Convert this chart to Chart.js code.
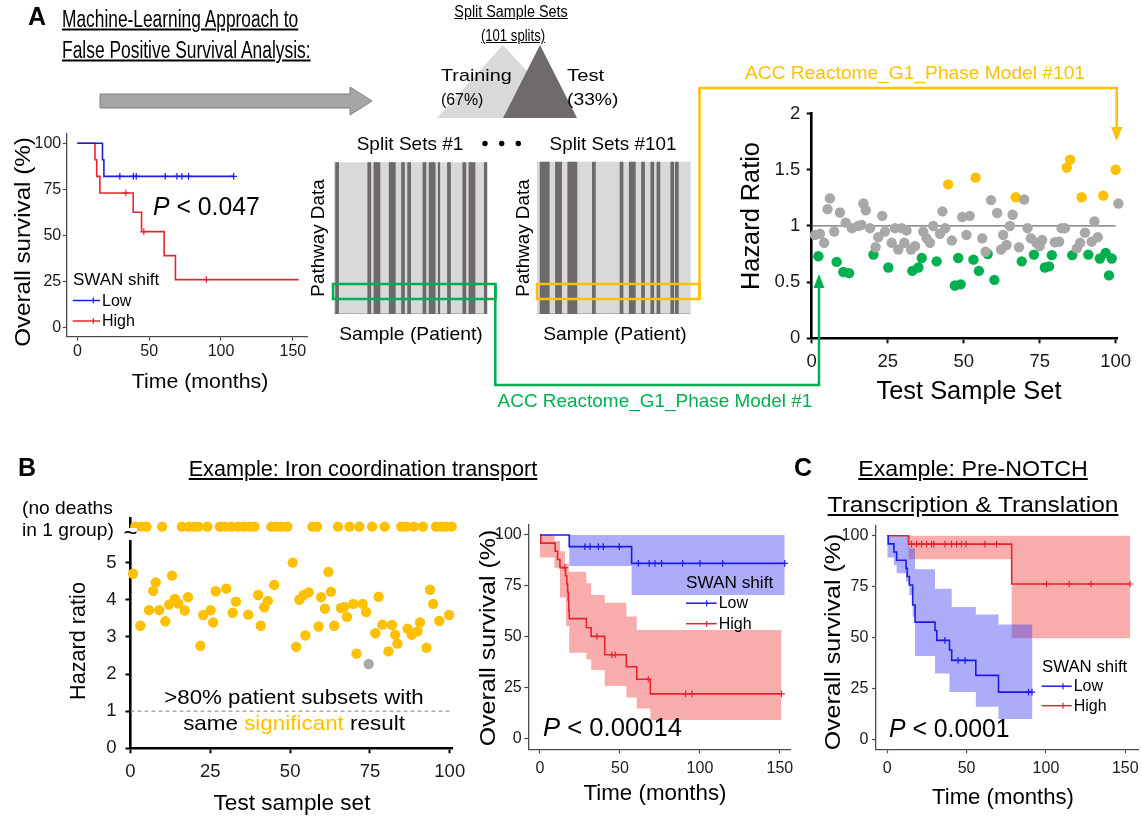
<!DOCTYPE html>
<html>
<head>
<meta charset="utf-8">
<title>SWAN shift survival figure</title>
<script src="https://cdn.jsdelivr.net/npm/chart.js@4.4.1/dist/chart.umd.min.js"></script>
<style>
  body { margin: 0; background: #fff; }
  #fig { position: relative; width: 1141px; height: 816px; overflow: hidden; background: #fff;
         font-family: "Liberation Sans", Arial, sans-serif; color: #000; }
  #fig canvas { position: absolute; z-index: 1; }
  #fig svg { position: absolute; left: 0; top: 0; z-index: 2; }
  .t { position: absolute; z-index: 3; white-space: nowrap; line-height: 1; }
</style>
</head>
<body>
<div id="fig">
  <svg id="sketch" width="1141" height="816">
    <!-- big process arrow -->
    <polygon points="100,94 350,94 350,87 372,101 350,115 350,108 100,108" fill="#a6a6a6" stroke="#7f7f7f" stroke-width="1"/>
    <!-- training / test triangles -->
    <polygon points="437,118 503,45 570,118" fill="#d9d9d9"/>
    <polygon points="503,118 540,45 577,118" fill="#6f6b6b"/>
    <!-- dots between split sets -->
    <circle cx="485" cy="143.5" r="2.7" fill="#000"/>
    <circle cx="501.7" cy="143.5" r="2.7" fill="#000"/>
    <circle cx="518.3" cy="143.5" r="2.7" fill="#000"/>
    <!-- green model #1 -->
    <rect x="333" y="284" width="162.5" height="15" fill="none" stroke="#00b050" stroke-width="2.5"/>
    <polyline points="495.3,284 495.3,385 819,385 819,286" fill="none" stroke="#00b050" stroke-width="2.5"/>
    <polygon points="813.5,288 819,274 824.5,288" fill="#00b050"/>
    <!-- orange model #101 -->
    <rect x="537" y="284" width="162.5" height="15" fill="none" stroke="#ffc000" stroke-width="2.5"/>
    <polyline points="699.5,299 699.5,88 1116.7,88 1116.7,128" fill="none" stroke="#ffc000" stroke-width="2.5"/>
    <polygon points="1111,127 1122.4,127 1116.7,141" fill="#ffc000"/>
  </svg>
</div>
<script>
/* police et couleurs */
const FONT = '"Liberation Sans", Arial, sans-serif';
Chart.defaults.font.family = FONT;
const fig = document.getElementById("fig");
const sketch = document.getElementById("sketch");

const BLUE = "#1c1ce8", RED = "#e4262c";
const BLUE_BAND = "rgba(70,70,240,0.45)", RED_BAND = "rgba(240,70,70,0.45)";
const GRAY_PT = "#aaa7a7", GREEN = "#00b050", ORANGE = "#ffc000";

/* ticks */
const kmTimeTicks = [0, 50, 100, 150];
const kmSurvTicks = [0, 25, 50, 75, 100];
const setTicks = [0, 25, 50, 75, 100];
const hrTicksA = [0, 0.5, 1, 1.5, 2];
const hrTicksB = [0, 1, 2, 3, 4, 5];
const groupNames = ["Low", "High"];
const legendTitle = "SWAN shift";

/* A : petite courbe de survie */
const kmA_lowTime = [0, 17.5, 18.5, 108.8];
const kmA_lowSurv = [100, 91, 82, 82];
const kmA_lowCensor = [29.6, 39, 41, 61.2, 69.3, 72.8, 77.4, 108.8];
const kmA_highTime = [0, 12.3, 13.5, 15.7, 38.9, 44.7, 60.4, 68.3, 154];
const kmA_highSurv = [100, 91, 82, 73, 62.5, 52, 39, 26, 26];
const kmA_highCensor = [33.8, 46.3, 89.8];

/* A : barcodes (colonnes sombres sur 100) */
const split1Stripes = [[1, 2], [22, 23], [26, 29], [36, 39], [44, 45], [48, 49], [58, 59], [62, 65], [68, 68], [74, 75], [84, 85], [88, 91], [98, 99]];
const split101Stripes = [[2, 7], [12, 15], [20, 25], [36, 37], [54, 55], [60, 63], [68, 69], [74, 75], [78, 79], [87, 88], [90, 91]];

/* A : hazard ratio par jeu de test */
const grayX = [1.1, 2.7, 4.1, 5.2, 6.0, 7.4, 9.3, 11.2, 13.2, 15.3, 16.4, 17.0, 17.8, 19.2, 21.0, 21.9, 23.2, 24.1, 26.3, 27.4, 28.5, 29.6, 30.5, 31.2, 32.7, 34.0, 36.7, 37.8, 38.9, 40.0, 42.2, 43.0, 43.9, 46.1, 49.5, 50.9, 52.0, 56.1, 57.2, 59.0, 61.0, 62.3, 63.0, 64.1, 65.2, 66.1, 68.2, 69.9, 71.0, 72.1, 73.9, 75.0, 75.8, 80.0, 81.4, 82.2, 83.3, 87.2, 88.3, 89.9, 92.1, 93.0, 94.1, 100.9];
const grayHR = [0.92, 0.93, 0.85, 1.15, 1.245, 0.95, 1.12, 1.03, 0.98, 1.00, 1.01, 1.20, 1.14, 0.98, 0.81, 0.90, 1.09, 0.95, 0.85, 0.98, 0.79, 0.98, 0.85, 0.96, 0.79, 0.82, 0.95, 0.89, 0.85, 1.00, 0.93, 1.13, 0.98, 0.87, 1.08, 0.92, 1.09, 0.89, 0.77, 1.23, 1.115, 0.79, 0.92, 0.83, 1.00, 1.10, 0.81, 1.235, 0.98, 0.89, 0.85, 0.82, 0.875, 0.855, 0.86, 0.98, 0.98, 0.80, 0.85, 0.94, 0.86, 1.04, 0.90, 1.20];
const greenX = [2.2, 8.2, 10.4, 12.3, 20.3, 25.2, 33.1, 35.1, 36.2, 41.1, 47.1, 48.2, 49.0, 53.2, 55.0, 57.9, 60.1, 69.1, 73.1, 76.7, 78.1, 79.0, 85.7, 91.0, 94.8, 96.7, 97.8, 98.7];
const greenHR = [0.73, 0.68, 0.59, 0.58, 0.745, 0.63, 0.60, 0.63, 0.715, 0.685, 0.47, 0.715, 0.48, 0.70, 0.60, 0.75, 0.52, 0.685, 0.745, 0.63, 0.64, 0.74, 0.74, 0.745, 0.71, 0.76, 0.56, 0.71];
const orangeX = [44.9, 53.9, 67.1, 83.9, 85.0, 88.8, 95.9, 100.0];
const orangeHR = [1.37, 1.43, 1.255, 1.52, 1.59, 1.255, 1.27, 1.50];
const refHR = 1;

/* B : iron coordination transport */
const ironX = [0.8, 3.1, 5.8, 7.1, 7.9, 9.0, 10.9, 12.1, 13.0, 13.9, 15.0, 17.0, 18.0, 21.9, 22.8, 25.1, 25.9, 26.7, 30.0, 32.0, 33.0, 36.9, 40.0, 40.8, 41.9, 43.0, 45.0, 50.8, 51.9, 52.9, 54.2, 54.8, 55.8, 58.9, 59.7, 60.9, 62.0, 62.8, 63.8, 65.9, 67.0, 67.8, 69.8, 70.8, 72.7, 73.8, 76.7, 77.7, 78.9, 80.8, 81.9, 82.9, 83.6, 86.8, 88.1, 89.9, 90.7, 92.7, 93.8, 94.8, 96.7, 99.8];
const ironHR = [4.70, 3.30, 3.72, 4.24, 4.47, 3.72, 3.42, 3.87, 4.65, 4.02, 3.90, 3.71, 4.07, 2.76, 3.59, 3.72, 3.39, 4.23, 4.30, 3.65, 3.95, 3.60, 4.13, 3.30, 3.80, 3.97, 4.40, 5.00, 2.73, 4.00, 4.13, 3.04, 4.20, 3.28, 4.07, 3.76, 4.75, 4.22, 3.30, 3.78, 3.81, 3.54, 3.89, 2.55, 3.89, 3.67, 3.10, 4.08, 3.33, 2.61, 3.32, 3.06, 2.82, 3.22, 3.06, 3.15, 3.39, 2.71, 4.27, 3.89, 3.43, 3.59];
const ironGrayX = [74.6];
const ironGrayHR = [2.27];
const ironNoDeathX = [1.5, 3.3, 5.0, 9.9, 16.1, 18.3, 20.1, 21.3, 24.1, 28.0, 29.6, 31.6, 33.8, 35.6, 37.2, 38.8, 44.1, 45.7, 47.3, 49.1, 57.0, 58.4, 65.0, 68.6, 71.7, 75.7, 79.6, 84.8, 86.4, 88.8, 91.6, 95.7, 97.3, 98.9, 100.6];
const noDeathLevel = 5.97;

/* B : survie */
const kmB_lowTime = [0, 18.3, 57.3, 153];
const kmB_lowSurv = [100, 94.3, 86.1, 86.1];
const kmB_lowCensor = [28.1, 31.3, 36.5, 39.6, 49.6, 61.5, 68.3, 71.9, 76, 89.2, 100, 114.2, 153];
const kmB_lowBandTime = [0, 18.3, 57.3, 153];
const kmB_lowBandHi = [100, 100, 100, 100];
const kmB_lowBandLo = [100, 84.8, 70.6, 70.6];
const kmB_highTime = [0, 0.5, 9.5, 11, 12.5, 16, 16.8, 17.3, 17.7, 18.0, 18.3, 29, 32, 40.5, 54, 60.5, 69, 151];
const kmB_highSurv = [100, 96, 92, 88, 84, 80, 76, 72, 68, 63, 59, 54.5, 50.3, 41.3, 35.4, 29.3, 22.1, 22.1];
const kmB_highCensor = [15.6, 35.6, 45, 47, 67.7, 91, 95, 151];
const kmB_highHiTime = [0, 9, 12.5, 15.6, 18, 29, 32, 40.5, 54, 60.5, 151];
const kmB_highHi = [100, 97, 92, 86, 82, 76.3, 70.6, 66.8, 60, 53.4, 53.4];
const kmB_highLoTime = [0, 9, 12.5, 16.3, 18.3, 29, 32, 40.5, 54, 60.5, 69, 151];
const kmB_highLo = [89, 84, 69.4, 55.4, 42.3, 39, 33.8, 26, 20.4, 15, 9.3, 9.3];

/* C : survie */
const kmC_highTime = [0, 13.4, 78.4, 153];
const kmC_highSurv = [100, 95.9, 76.3, 76.3];
const kmC_highCensor = [15.3, 18.5, 21.6, 24.8, 27.9, 29.4, 36.3, 40.5, 43.7, 46.8, 49.6, 61.6, 68.9, 100.4, 114.7, 128.4, 153];
const kmC_highBandTime = [0, 13.4, 78.4, 153];
const kmC_highBandHi = [100, 100, 100, 100];
const kmC_highBandLo = [100, 88.5, 49.6, 49.6];
const kmC_lowTime = [0, 0.6, 4.2, 5.9, 11.8, 12.6, 13.9, 16.0, 17.5, 30.1, 31.2, 39.2, 40.6, 55.8, 70.1, 91.2];
const kmC_lowSurv = [100, 96, 92, 88, 84, 80, 75.8, 66, 57.6, 53.5, 48.6, 43.9, 38.8, 31.4, 23.2, 23.2];
const kmC_lowCensor = [36.3, 44.7, 49, 89, 91.2];
const kmC_lowHiTime = [0, 14, 17.5, 30.1, 40.6, 55.8, 70.1, 91.5];
const kmC_lowHi = [100, 93.8, 83.5, 74, 65, 61.3, 56.4, 56.4];
const kmC_lowLoTime = [0, 4.2, 5.9, 11.8, 13.9, 16, 17.5, 30.1, 39.2, 55.8, 70.1, 91.5];
const kmC_lowLo = [89.3, 85.7, 81.6, 77.5, 70.9, 60.2, 40.9, 32.3, 23.3, 16, 10, 10];

/* outils */
function pts(xs, ys) { return xs.map((x, i) => ({ x: x, y: ys[i] })); }
function survAt(ts, ss, t) { let s = ss[0]; ts.forEach((v, i) => { if (v <= t) s = ss[i]; }); return s; }

function canvasFor(area, m) {
  const left = Math.floor(area.l - m.l), top = Math.floor(area.t - m.t);
  const right = Math.ceil(area.r + m.r), bottom = Math.ceil(area.b + m.b);
  const c = document.createElement("canvas");
  c.width = right - left; c.height = bottom - top;
  c.style.left = left + "px"; c.style.top = top + "px";
  c.style.width = c.width + "px"; c.style.height = c.height + "px";
  fig.insertBefore(c, sketch);
  return { c: c, yw: area.l - left, xh: bottom - area.b,
           pad: { left: 0, bottom: 0, top: area.t - top, right: right - area.r } };
}

function axis(range, ticks, size, st) {
  return {
    type: "linear", min: range[0], max: range[1],
    afterBuildTicks: s => { s.ticks = ticks.map(v => ({ value: v })); },
    afterFit: s => { if (s.isHorizontal()) s.height = size; else s.width = size; },
    border: { color: st.color, width: st.lw },
    grid: { drawOnChartArea: false, drawTicks: true, tickLength: st.tl, tickColor: st.color, tickWidth: st.tw },
    ticks: { autoSkip: false, maxRotation: 0, padding: st.pad, color: "#1a1a1a",
             font: { family: FONT, size: st.fs }, callback: v => String(v) }
  };
}

const areaFill = {
  id: "areaFill",
  beforeDatasetsDraw(chart, args, opts) {
    if (!opts.color) return;
    const a = chart.chartArea, ctx = chart.ctx;
    ctx.save(); ctx.fillStyle = opts.color; ctx.fillRect(a.left, a.top, a.width, a.height); ctx.restore();
  }
};

function txt(html, x, y, size, o) {
  o = o || {};
  const d = document.createElement("div");
  d.className = "t";
  d.innerHTML = html;
  d.style.fontSize = size + "px";
  if (o.color) d.style.color = o.color;
  if (o.bold) d.style.fontWeight = "bold";
  if (o.u) d.style.textDecoration = "underline";
  fig.appendChild(d);
  const sx = o.w ? o.w / d.offsetWidth : 1;
  d.style.left = x + "px"; d.style.top = y + "px";
  if (o.left) {
    d.style.transformOrigin = "0 50%";
    d.style.transform = "translate(0,-50%) scaleX(" + sx + ")";
  } else {
    d.style.transform = "translate(-50%,-50%) rotate(" + (o.rot || 0) + "deg) scaleX(" + sx + ")";
  }
  return d;
}

function addLine(x1, y1, x2, y2, col, w) {
  const l = document.createElementNS("http://www.w3.org/2000/svg", "line");
  l.setAttribute("x1", x1); l.setAttribute("y1", y1); l.setAttribute("x2", x2); l.setAttribute("y2", y2);
  l.setAttribute("stroke", col); l.setAttribute("stroke-width", w);
  sketch.appendChild(l);
}

function kmLegend(x, y, gap, lineW, crossAt, titleW) {
  txt(legendTitle, x, y, 16, { left: true, w: titleW });
  [BLUE, RED].forEach((col, i) => {
    const yy = y + gap * (i + 1);
    addLine(x, yy, x + lineW, yy, col, 1.5);
    addLine(x + crossAt, yy - 3, x + crossAt, yy + 3, col, 1.2);
    txt(groupNames[i], x + lineW + 2, yy, 16, { left: true });
  });
}

/* courbe de Kaplan-Meier */
function kmChart(area, xr, yr, pads, curves, bands) {
  const f = canvasFor(area, { l: 45, t: 14, r: 12, b: 30 });
  const datasets = [];
  curves.forEach(cv => {
    datasets.push({ data: pts(cv.t, cv.s), borderColor: cv.color, borderWidth: 1.6, stepped: "before", pointRadius: 0, fill: false });
    datasets.push({ data: cv.censor.map(t => ({ x: t, y: survAt(cv.t, cv.s, t) })), showLine: false,
                    pointStyle: "cross", pointRadius: 3.3, pointBorderWidth: 1.2, borderColor: cv.color, pointBorderColor: cv.color });
  });
  bands.forEach(b => {
    datasets.push({ data: pts(b.hiT, b.hi), stepped: "before", borderWidth: 0, pointRadius: 0, backgroundColor: b.color, fill: "+1" });
    datasets.push({ data: pts(b.loT, b.lo), stepped: "before", borderWidth: 0, pointRadius: 0, fill: false });
  });
  const st = { color: "#4a4a4a", lw: 1.3, tl: 4, tw: 1.2, fs: 16 };
  new Chart(f.c, {
    type: "line",
    data: { datasets: datasets },
    options: {
      responsive: false, animation: false, events: [],
      layout: { padding: f.pad },
      plugins: { legend: { display: false }, tooltip: { enabled: false } },
      scales: {
        x: axis(xr, kmTimeTicks, f.xh, Object.assign({}, st, { pad: pads[0] })),
        y: axis(yr, kmSurvTicks, f.yw, Object.assign({}, st, { pad: pads[1] }))
      }
    }
  });
}

/* nuage des hazard ratios */
function hrChart(area, xr, yr, yTicks, pads, groups, ref) {
  const f = canvasFor(area, { l: 45, t: 14, r: 25, b: 35 });
  const datasets = groups.map(g => ({
    type: "scatter", data: pts(g.x, g.y), backgroundColor: g.color, borderWidth: 0, pointRadius: 5.2, clip: false
  }));
  datasets.push({ type: "line", data: pts([0, ref.to], [ref.y, ref.y]), borderColor: ref.color,
                  borderWidth: ref.w, borderDash: ref.dash, pointRadius: 0, fill: false });
  const st = { color: "#000", lw: 2.6, tl: 5, tw: 2, fs: 18.5 };
  new Chart(f.c, {
    type: "scatter",
    data: { datasets: datasets },
    options: {
      responsive: false, animation: false, events: [],
      layout: { padding: f.pad },
      plugins: { legend: { display: false }, tooltip: { enabled: false } },
      scales: {
        x: axis(xr, setTicks, f.xh, Object.assign({}, st, { pad: pads[0] })),
        y: axis(yr, yTicks, f.yw, Object.assign({}, st, { pad: pads[1] }))
      }
    }
  });
}

/* barcode des données de voie */
const barcodeCols = Array.from({ length: 100 }, (_, i) => i);
function barcode(area, stripes) {
  const f = canvasFor(area, { l: 0, t: 0, r: 0, b: 0 });
  const vals = barcodeCols.map(i => stripes.some(s => i >= s[0] && i <= s[1]) ? 1 : 0);
  new Chart(f.c, {
    type: "bar",
    data: { labels: barcodeCols, datasets: [{ data: vals, backgroundColor: "#6e6a6a", borderWidth: 0,
                                              barPercentage: 1, categoryPercentage: 1 }] },
    options: {
      responsive: false, animation: false, events: [],
      layout: { padding: f.pad },
      plugins: { legend: { display: false }, tooltip: { enabled: false }, areaFill: { color: "#d9d9d9" } },
      scales: { x: { display: false }, y: { display: false, min: 0, max: 1 } }
    },
    plugins: [areaFill]
  });
}

/* ---------- panneau A ---------- */
kmChart({ l: 66.7, t: 134, r: 307.2, b: 336.7 }, [-7.4, 160], [-5, 105], [1.5, 1.5],
  [{ t: kmA_lowTime, s: kmA_lowSurv, censor: kmA_lowCensor, color: BLUE },
   { t: kmA_highTime, s: kmA_highSurv, censor: kmA_highCensor, color: RED }], []);

barcode({ l: 334, t: 162.3, r: 487.3, b: 314 }, split1Stripes);
barcode({ l: 537.7, t: 161.7, r: 690.7, b: 314 }, split101Stripes);

hrChart({ l: 811.7, t: 110, r: 1117.2, b: 338.3 }, [0, 100.5], [0, 2], hrTicksA, [7.5, 6.5],
  [{ x: grayX, y: grayHR, color: GRAY_PT }, { x: greenX, y: greenHR, color: GREEN }, { x: orangeX, y: orangeHR, color: ORANGE }],
  { y: refHR, to: 100, color: "#6b6b6b", w: 1.3, dash: [] });

/* ---------- panneau B ---------- */
hrChart({ l: 130.5, t: 512, r: 452, b: 748.3 }, [0, 100.7], [0, 6.2], hrTicksB, [7.5, 9],
  [{ x: ironX, y: ironHR, color: ORANGE }, { x: ironGrayX, y: ironGrayHR, color: GRAY_PT },
   { x: ironNoDeathX, y: ironNoDeathX.map(() => noDeathLevel), color: ORANGE }],
  { y: refHR, to: 100.7, color: "#9a9a9a", w: 1.2, dash: [4, 3] });

kmChart({ l: 528.3, t: 524.8, r: 790, b: 749.3 }, [-7.3, 156.3], [-5.05, 105], [5.4, 2.6],
  [{ t: kmB_lowTime, s: kmB_lowSurv, censor: kmB_lowCensor, color: BLUE },
   { t: kmB_highTime, s: kmB_highSurv, censor: kmB_highCensor, color: RED }],
  [{ hiT: kmB_lowBandTime, hi: kmB_lowBandHi, loT: kmB_lowBandTime, lo: kmB_lowBandLo, color: BLUE_BAND },
   { hiT: kmB_highHiTime, hi: kmB_highHi, loT: kmB_highLoTime, lo: kmB_highLo, color: RED_BAND }]);

/* ---------- panneau C ---------- */
kmChart({ l: 876, t: 525.5, r: 1138, b: 749.3 }, [-7.1, 158], [-4.9, 105.05], [5.4, 3.7],
  [{ t: kmC_lowTime, s: kmC_lowSurv, censor: kmC_lowCensor, color: BLUE },
   { t: kmC_highTime, s: kmC_highSurv, censor: kmC_highCensor, color: RED }],
  [{ hiT: kmC_lowHiTime, hi: kmC_lowHi, loT: kmC_lowLoTime, lo: kmC_lowLo, color: BLUE_BAND },
   { hiT: kmC_highBandTime, hi: kmC_highBandHi, loT: kmC_highBandTime, lo: kmC_highBandLo, color: RED_BAND }]);

/* ---------- textes ---------- */
txt("A", 37, 16, 25, { bold: true });
txt("Machine-Learning Approach to", 62, 19, 23, { left: true, u: true, w: 236 });
txt("False Positive Survival Analysis:", 62, 50, 23, { left: true, u: true, w: 249 });
txt("Split Sample Sets", 511, 12, 16, { u: true, w: 113 });
txt("(101 splits)", 513, 36, 16, { u: true, w: 64 });
txt("Training", 441, 75, 17, { left: true, w: 71 });
txt("(67%)", 441, 99, 17, { left: true, w: 42 });
txt("Test", 567, 75, 17, { left: true, w: 37 });
txt("(33%)", 567, 99, 17, { left: true, w: 51 });
txt("Split Sets #1", 410, 143, 19, { w: 107 });
txt("Split Sets #101", 613, 143, 19, { w: 127 });
txt("Pathway Data", 317, 238, 19, { rot: -90, w: 117 });
txt("Pathway Data", 522, 238, 19, { rot: -90, w: 117 });
txt("Sample (Patient)", 411, 333, 19, { w: 144 });
txt("Sample (Patient)", 614.7, 333, 19, { w: 144 });
txt("ACC Reactome_G1_Phase Model #101", 915, 72, 19, { color: ORANGE, w: 340 });
txt("ACC Reactome_G1_Phase Model #1", 654.5, 400, 19, { color: GREEN, w: 315 });
txt("Overall survival (%)", 22.5, 241.7, 22, { rot: -90, w: 210 });
txt("Time (months)", 199.5, 380, 21, { w: 137 });
txt("<i>P</i> &lt; 0.047", 153, 206, 25, { left: true, w: 107 });
kmLegend(72.7, 280, 20.5, 27.3, 20.6, 86);
txt("Hazard Ratio", 750, 216, 25, { rot: -90, w: 148 });
txt("Test Sample Set", 969, 390, 25, { w: 185 });

txt("B", 27, 467, 25, { bold: true });
txt("Example: Iron coordination transport", 362.5, 469, 22, { u: true, w: 349 });
txt("(no deaths", 21.7, 506.7, 19, { left: true, w: 91 });
txt("in 1 group)", 21.7, 529.3, 19, { left: true, w: 92 });
const brk = document.createElement("div");
brk.style.cssText = "position:absolute;z-index:3;left:124px;top:528px;width:13px;height:12px;background:#fff";
fig.appendChild(brk);
txt("~", 130.5, 533, 24, {});
txt("Hazard ratio", 78.3, 640.8, 22, { rot: -90, w: 118 });
txt("Test sample set", 291.7, 803.3, 22, { w: 157 });
txt("&gt;80% patient subsets with", 293.7, 696, 21, { w: 260 });
txt('same <span style="color:#ffc000">significant</span> result', 294, 721.7, 21, { w: 222 });
txt("Overall survival (%)", 488.3, 638.3, 22, { rot: -90, w: 217 });
txt("Time (months)", 655, 793.3, 22, { w: 143 });
txt("<i>P</i> &lt; 0.00014", 543, 726.7, 26, { left: true, w: 139 });
kmLegend(686, 582.7, 20.5, 30.7, 20.7, 87);

txt("C", 803, 467, 25, { bold: true });
txt("Example: Pre-NOTCH", 973, 469, 22, { u: true, w: 230 });
txt("Transcription &amp; Translation", 972.5, 505, 22, { u: true, w: 291 });
txt("Overall survival (%)", 833.3, 641.7, 22, { rot: -90, w: 217 });
txt("Time (months)", 1002.5, 796.7, 22, { w: 142 });
txt("<i>P</i> &lt; 0.0001", 889, 728, 25, { left: true, w: 121 });
kmLegend(1041.7, 666.7, 19.5, 30, 21.3, 85);
</script>
</body>
</html>
